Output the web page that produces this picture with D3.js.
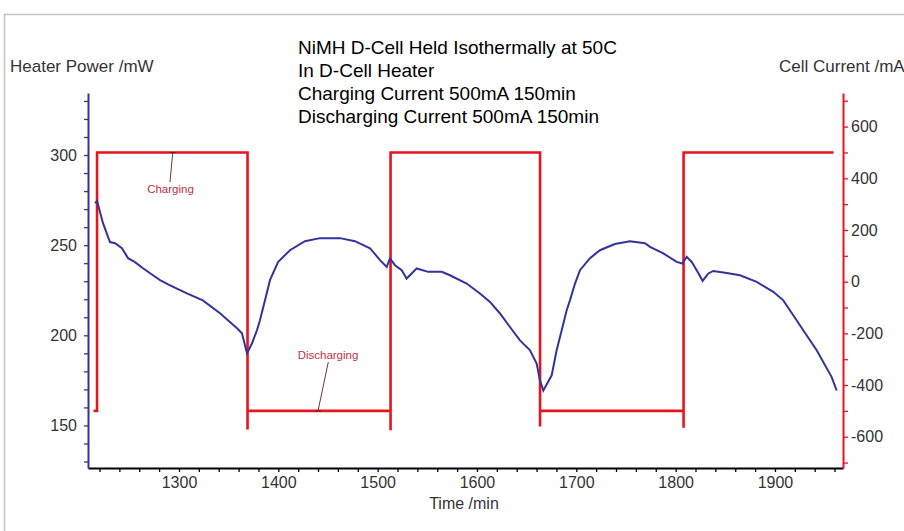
<!DOCTYPE html>
<html>
<head>
<meta charset="utf-8">
<script src="https://cdn.jsdelivr.net/npm/d3@7"></script>
<style>
  body { margin: 0; background: #fff; }
  text { font-family: "Liberation Sans", Arial, sans-serif; }
</style>
</head>
<body>
<svg width="904" height="531"></svg>
<script>
// heater power (blue)
var powerTime = [1215.4, 1217.5, 1223.5, 1230.5, 1235.6, 1242.6, 1248.7, 1255.7, 1263.8, 1273.8,
  1280.9, 1290, 1308, 1324, 1341.3, 1358.4, 1363.4, 1368.5, 1373.5, 1378.5,
  1381.5, 1386.6, 1391.6, 1399.7, 1411.7, 1426.8, 1442, 1462.1, 1477.2, 1492.3,
  1502.4, 1509.1, 1512.4, 1517.5, 1524.2, 1529.2, 1534.3, 1539.3, 1551, 1564.5,
  1572.8, 1589.6, 1603, 1613.1, 1623.2, 1633.2, 1643.3, 1653.4, 1660.1, 1663.4,
  1666.8, 1675.2, 1680.2, 1685.3, 1690.3, 1693.6, 1698.7, 1703.7, 1713.8, 1723.8,
  1738.9, 1754, 1769.1, 1774.2, 1787.6, 1801.1, 1806.7, 1811.1, 1816.2, 1821.2,
  1827.2, 1832.9, 1837.9, 1851.4, 1864.8, 1881.6, 1898.3, 1908.4, 1918.4, 1928.5,
  1942, 1957.1, 1962.1];
var powerMW = [273.3, 274.5, 262.2, 251.7, 251.1, 248.3, 242.8, 240.6, 237.2, 233.3,
  230.6, 228, 223.3, 219.4, 212.2, 203.9, 201.1, 190, 195.6, 202.8,
  208.3, 219.4, 230.6, 240.6, 247.2, 252.2, 253.9, 253.9, 252.2, 248.3,
  241.7, 237.9, 242.6, 238.9, 236.1, 231.5, 234.3, 237.1, 235.2, 235.2,
  233.3, 228.7, 223.2, 218.5, 212.1, 204.6, 197.2, 191.7, 184.3, 175,
  169.4, 177.8, 191.7, 202.8, 213.9, 219.4, 228.7, 236.1, 242.8, 247.2,
  250.6, 252.2, 251.1, 249.1, 245.4, 240.7, 239.8, 243.5, 240.7, 236.1,
  230.2, 234.3, 235.7, 234.6, 233.3, 229.6, 224.1, 219.4, 211.1, 202.8,
  191.7, 176.8, 169.4];

// cell current (red)
var currentTime = [1214, 1217.5, 1217.5, 1369, 1369, 1369, 1513, 1513, 1513, 1663.5, 1663.5, 1663.5, 1808, 1808, 1808, 1959];
var currentMA = [-500, -500, 500, 500, -572, -500, -500, -575, 500, 500, -560, -500, -500, -565, 500, 500];

var titleLines = ["NiMH D-Cell Held Isothermally at 50C", "In D-Cell Heater",
  "Charging Current 500mA 150min", "Discharging Current 500mA 150min"];
var xMajor = [1300, 1400, 1500, 1600, 1700, 1800, 1900];
var leftMajor = [150, 200, 250, 300];
var rightMajor = [-600, -400, -200, 0, 200, 400, 600];

var svg = d3.select("svg"),
    margin = {top: 93, right: 61, bottom: 63, left: 88},
    width = +svg.attr("width") - margin.left - margin.right,
    height = +svg.attr("height") - margin.top - margin.bottom;

var blue = "#33339a", red = "#e8141e";

// frame
svg.append("path")
    .attr("d", "M4.5,540 V14.5 H910")
    .attr("fill", "none").attr("stroke", "#c4c4c4").attr("stroke-width", 1.5);

var x = d3.scaleLinear().domain([1208.4, 1968.5]).range([margin.left, margin.left + width]);
var yL = d3.scaleLinear().domain([126.4, 334.4]).range([margin.top + height, margin.top]);
var yR = d3.scaleLinear().domain([-721, 730]).range([margin.top + height, margin.top]);

function styleAxis(g, col) {
  g.select(".domain").attr("stroke", col).attr("stroke-width", 2);
  g.selectAll(".tick line").attr("stroke", col).attr("stroke-width", 1.3);
  g.selectAll("text").attr("fill", "#333").style("font-size", "16px");
}

// x axis: minor ticks every 20, labels every 100
var xAx = svg.append("g").attr("transform", "translate(0," + (margin.top + height) + ")");
xAx.call(d3.axisBottom(x).tickValues(d3.range(1220, 1961, 20)).tickSize(4).tickSizeOuter(0)
    .tickFormat(function(d) { return xMajor.indexOf(d) >= 0 ? d : ""; }));
styleAxis(xAx, "#000");
xAx.selectAll("text").attr("y", 20).attr("dy", 0);

var lAx = svg.append("g").attr("transform", "translate(" + margin.left + ",0)");
lAx.call(d3.axisLeft(yL).tickValues(d3.range(130, 331, 10)).tickSize(4).tickSizeOuter(0)
    .tickFormat(function(d) { return leftMajor.indexOf(d) >= 0 ? d : ""; }));
styleAxis(lAx, blue);
lAx.selectAll("text").attr("x", -11);

var rAx = svg.append("g").attr("transform", "translate(" + (margin.left + width) + ",0)");
rAx.call(d3.axisRight(yR).tickValues(d3.range(-700, 701, 100)).tickSize(5).tickSizeOuter(0)
    .tickFormat(function(d) { return rightMajor.indexOf(d) >= 0 ? d : ""; }));
styleAxis(rAx, red);
rAx.selectAll("text").attr("x", 8);

// series
var line = d3.line().x(function(d) { return x(d[0]); }).y(function(d) { return d[1]; });

svg.append("path")
    .datum(currentTime.map(function(t, i) { return [t, yR(currentMA[i])]; }))
    .attr("d", line).attr("fill", "none")
    .attr("stroke", red).attr("stroke-width", 2.6);

svg.append("path")
    .datum(powerTime.map(function(t, i) { return [t, yL(powerMW[i])]; }))
    .attr("d", line).attr("fill", "none")
    .attr("stroke", blue).attr("stroke-width", 2);

// annotations: leader from a point on the red line to the label
function note(label, tx, ty, ax, ay, bx, by) {
  svg.append("line").attr("x1", ax).attr("y1", ay).attr("x2", bx).attr("y2", by)
      .attr("stroke", "#6a3a3a").attr("stroke-width", 1);
  svg.append("line").attr("x1", ax - 3).attr("y1", ay).attr("x2", ax + 3).attr("y2", ay)
      .attr("stroke", "#4a2a2a").attr("stroke-width", 1);
  svg.append("text").attr("x", tx).attr("y", ty).attr("text-anchor", "middle")
      .attr("fill", "#c0304a").style("font-size", "11.5px").text(label);
}
note("Charging", 170.5, 193, x(1293.7), yR(500), 170, 182);
note("Discharging", 328, 359, x(1440), yR(-500), 328.3, 362);

// titles
svg.selectAll(".title").data(titleLines).enter().append("text")
    .attr("x", 298).attr("y", function(d, i) { return 54 + i * 23; })
    .style("font-size", "19px").attr("fill", "#000").text(function(d) { return d; });

svg.append("text").attr("x", 10).attr("y", 72).style("font-size", "17px").attr("fill", "#333")
    .text("Heater Power /mW");
svg.append("text").attr("x", 779).attr("y", 72).style("font-size", "17px").attr("fill", "#333")
    .text("Cell Current /mA");
svg.append("text").attr("x", 464).attr("y", 509).attr("text-anchor", "middle")
    .style("font-size", "16px").attr("fill", "#333").text("Time /min");
</script>
</body>
</html>
